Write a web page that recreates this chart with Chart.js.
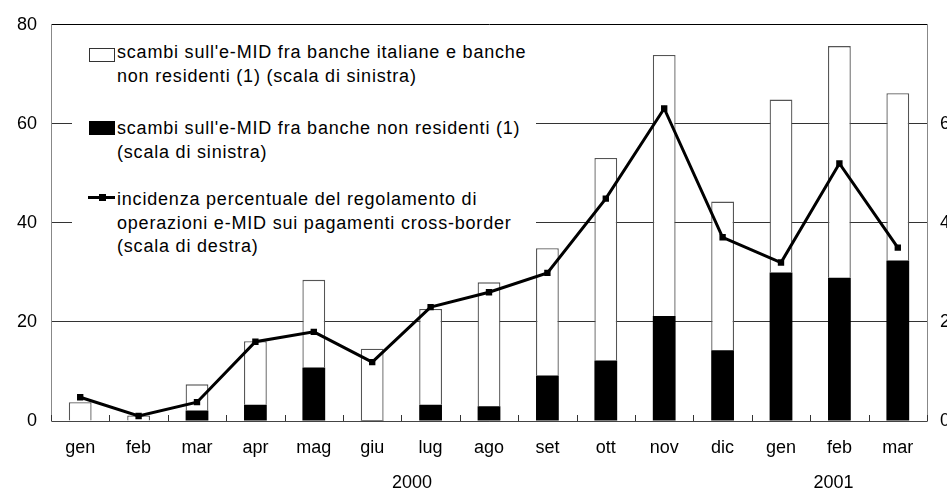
<!DOCTYPE html>
<html>
<head>
<meta charset="utf-8">
<script src="https://cdn.jsdelivr.net/npm/chart.js@4/dist/chart.umd.min.js"></script>
<style>
    body { margin: 0; background: #fff; overflow: hidden; }
    #wrap { position: relative; width: 1000px; height: 492px; }
    #legend {
        position: absolute; left: 72px; top: 30px; width: 464px; height: 235px;
        background: #fff; font-family: "Liberation Sans", Arial, sans-serif;
        font-size: 18px; letter-spacing: 0.8px; color: #000;
    }
    .item { position: absolute; left: 45px; line-height: 23.5px; white-space: nowrap; }
    .icon { position: absolute; box-sizing: border-box; }
</style>
</head>
<body>
<div id="wrap">
    <canvas id="chart" width="1000" height="492"></canvas>
    <div id="legend">
        <div class="icon" style="left:17px; top:18px; width:26px; height:14px; border:1px solid #333; background:#fff;"></div>
        <div class="item" style="top:11px;">scambi sull'e-MID fra banche italiane e banche<br>non residenti (1) (scala di sinistra)</div>
        <div class="icon" style="left:17px; top:91px; width:26px; height:14px; background:#000;"></div>
        <div class="item" style="top:87px;">scambi sull'e-MID fra banche non residenti (1)<br>(scala di sinistra)</div>
        <div class="icon" style="left:16px; top:166px; width:27px; height:3px; background:#000;"></div>
        <div class="icon" style="left:27px; top:164px; width:7px; height:7px; background:#000;"></div>
        <div class="item" style="top:158px;">incidenza percentuale del regolamento di<br>operazioni e-MID sui pagamenti cross-border<br>(scala di destra)</div>
    </div>
</div>
<script>
const months = ['gen', 'feb', 'mar', 'apr', 'mag', 'giu', 'lug', 'ago', 'set', 'ott', 'nov', 'dic', 'gen', 'feb', 'mar'];
const years = [{ label: '2000', at: 5.68 }, { label: '2001', at: 12.9 }];

// scambi fra banche non residenti (barra nera, scala di sinistra)
const nonResidenti = [0, 0, 2.1, 3.3, 10.8, 0.2, 3.3, 3.0, 9.2, 12.2, 21.2, 14.3, 30.0, 28.9, 32.4];
// scambi fra banche italiane e non residenti (parte bianca, impilata sopra la nera)
const italianeNonRes = [3.8, 1.1, 5.3, 12.8, 17.7, 14.4, 19.3, 25.0, 25.7, 40.9, 52.7, 30.0, 34.9, 46.8, 33.8];
// incidenza percentuale sui pagamenti cross-border (scala di destra)
const incidenza = [0.48, 0.1, 0.38, 1.6, 1.8, 1.19, 2.3, 2.6, 2.99, 4.49, 6.31, 3.71, 3.2, 5.2, 3.5];

const font = "'Liberation Sans', Arial, sans-serif";

const extras = {
    id: 'extras',
    afterDraw(chart) {
        const ctx = chart.ctx;
        const x = chart.scales.x;
        const bottom = chart.chartArea.bottom;
        ctx.save();
        ctx.strokeStyle = '#333';
        ctx.lineWidth = 1;
        for (let i = 0; i <= months.length; i++) {
            const px = Math.round(x.getPixelForValue(i - 0.5)) + 0.5;
            ctx.beginPath();
            ctx.moveTo(px, bottom);
            ctx.lineTo(px, bottom - 6);
            ctx.stroke();
        }
        ctx.fillStyle = '#000';
        ctx.font = '18px ' + font;
        ctx.textAlign = 'center';
        ctx.textBaseline = 'middle';
        years.forEach(y => ctx.fillText(y.label, x.getPixelForValue(y.at), 483));
        ctx.restore();
    }
};

new Chart(document.getElementById('chart').getContext('2d'), {
    type: 'bar',
    data: {
        labels: months,
        datasets: [
            {
                type: 'line',
                label: 'incidenza percentuale',
                data: incidenza,
                yAxisID: 'y2',
                borderColor: '#000',
                borderWidth: 3,
                pointStyle: 'rect',
                pointRadius: 4.5,
                pointBackgroundColor: '#000',
                pointBorderWidth: 0,
                tension: 0,
                order: 0
            },
            {
                label: 'non residenti',
                data: nonResidenti,
                backgroundColor: '#000',
                borderWidth: 0,
                stack: 'a',
                order: 1
            },
            {
                label: 'italiane e non residenti',
                data: italianeNonRes,
                backgroundColor: '#fff',
                borderColor: '#555',
                borderWidth: 1.3,
                stack: 'a',
                order: 2
            }
        ]
    },
    options: {
        responsive: false,
        animation: false,
        layout: { padding: { top: 24, left: 0, right: 0, bottom: 0 } },
        datasets: { bar: { barPercentage: 0.39, categoryPercentage: 1 } },
        plugins: { legend: { display: false }, tooltip: { enabled: false } },
        scales: {
            x: {
                stacked: true,
                grid: { display: false, drawTicks: false },
                border: { color: '#444', width: 1 },
                ticks: { color: '#000', font: { family: font, size: 18 }, padding: 16, maxRotation: 0, autoSkip: false },
                afterFit: s => { s.height = 71; }
            },
            y: {
                stacked: true,
                min: 0, max: 80,
                ticks: { stepSize: 20, color: '#000', font: { family: font, size: 18 }, padding: 14 },
                grid: {
                    drawTicks: false,
                    color: c => c.tick && c.tick.value === 80 ? '#000' : '#333'
                },
                border: { color: '#888', width: 1 },
                afterFit: s => { s.width = 51; }
            },
            y2: {
                position: 'right',
                min: 0, max: 8,
                ticks: {
                    stepSize: 2, color: '#000', font: { family: font, size: 18 }, padding: 13,
                    callback: v => v === 8 ? '' : v
                },
                grid: { display: false, drawTicks: false },
                border: { color: '#888', width: 1 },
                afterFit: s => { s.width = 73; }
            }
        }
    },
    plugins: [extras]
});
</script>
</body>
</html>
